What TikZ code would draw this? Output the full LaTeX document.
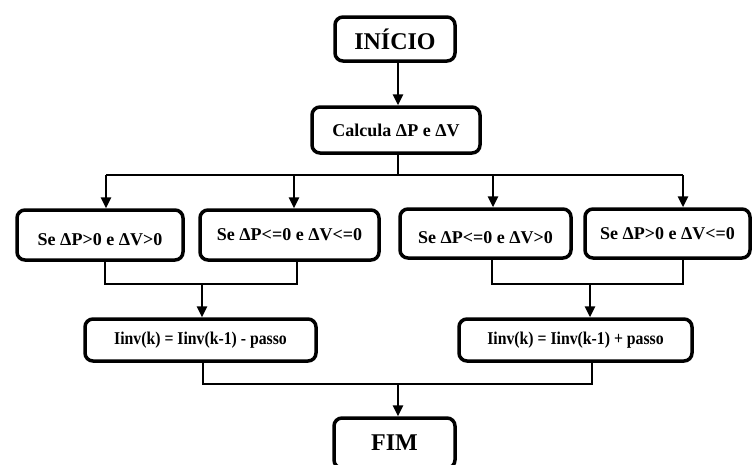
\documentclass[tikz,border=0pt]{standalone}
\usepackage{fontspec}
\setmainfont{Liberation Serif}
\usetikzlibrary{arrows.meta}
\newcommand{\condensed}[1]{\scalebox{0.875}[1]{#1}}
\tikzset{
  box/.style={draw=black, line width=3.5pt, rounded corners=8pt, fill=white,
    font=\bfseries\fontsize{18}{20}\selectfont, align=center, inner sep=0pt},
  bigbox/.style={box, font=\bfseries\fontsize{24}{26}\selectfont},
  lowtext/.style={text height=20pt, text depth=0pt},
  line/.style={draw=black, line width=2.6pt},
  arr/.style={line, -{Triangle[width=10pt,length=11pt]}},
}
\begin{document}
\begin{tikzpicture}[x=1pt, y=-1pt]
\path[use as bounding box] (0,0) rectangle (755,464);
\clip (0,0) rectangle (755,464);
\fill[white] (0,0) rectangle (755,464);

% nodes
\node[bigbox, minimum width=120pt, minimum height=44pt] (inicio) at (395,39) {INÍCIO};
\node[box, minimum width=168pt, minimum height=46pt] (calc) at (396,130) {Calcula ΔP e ΔV};
\node[box, lowtext, minimum width=166pt, minimum height=50pt] (b1) at (100,235) {Se ΔP>0 e ΔV>0};
\node[box, minimum width=179pt, minimum height=50pt] (b2) at (289.5,235) {Se ΔP<=0 e ΔV<=0};
\node[box, lowtext, minimum width=171pt, minimum height=49pt] (b3) at (485.5,233.5) {Se ΔP<=0 e ΔV>0};
\node[box, minimum width=165pt, minimum height=49pt] (b4) at (667.5,233.5) {Se ΔP>0 e ΔV<=0};
\node[box, minimum width=231pt, minimum height=42pt] (inv1) at (200.5,340) {\condensed{Iinv(k) = Iinv(k-1) - passo}};
\node[box, minimum width=233pt, minimum height=42pt] (inv2) at (575.5,340) {\condensed{Iinv(k) = Iinv(k-1) + passo}};
\node[bigbox, minimum width=121pt, minimum height=50pt] (fim) at (394.5,443) {FIM};

% junction coordinates
\coordinate (h1) at (106,175);
\coordinate (h2) at (294,175);
\coordinate (h3) at (493,175);
\coordinate (h4) at (683,175);
\coordinate (hc) at (398,175);
\coordinate (m1a) at (105,284);
\coordinate (m1b) at (297,284);
\coordinate (m1c) at (202,284);
\coordinate (m2a) at (492,284);
\coordinate (m2b) at (683,284);
\coordinate (m2c) at (590,284);
\coordinate (m3a) at (203,384);
\coordinate (m3b) at (592,384);
\coordinate (m3c) at (398,384);

% connectors
\draw[arr] (inicio.south -| hc) -- (calc.north -| hc);
\draw[line] (calc.south -| hc) -- (hc);
\draw[line] (h1) -- (h4);
\draw[arr] (h1) -- (h1 |- b1.north);
\draw[arr] (h2) -- (h2 |- b2.north);
\draw[arr] (h3) -- (h3 |- b3.north);
\draw[arr] (h4) -- (h4 |- b4.north);

\draw[line] (b1.south -| m1a) -- (m1a) -- (m1b) -- (b2.south -| m1b);
\draw[arr] (m1c) -- (m1c |- inv1.north);
\draw[line] (b3.south -| m2a) -- (m2a) -- (m2b) -- (b4.south -| m2b);
\draw[arr] (m2c) -- (m2c |- inv2.north);

\draw[line] (inv1.south -| m3a) -- (m3a) -- (m3b) -- (inv2.south -| m3b);
\draw[arr] (m3c) -- (m3c |- fim.north);
\end{tikzpicture}
\end{document}
